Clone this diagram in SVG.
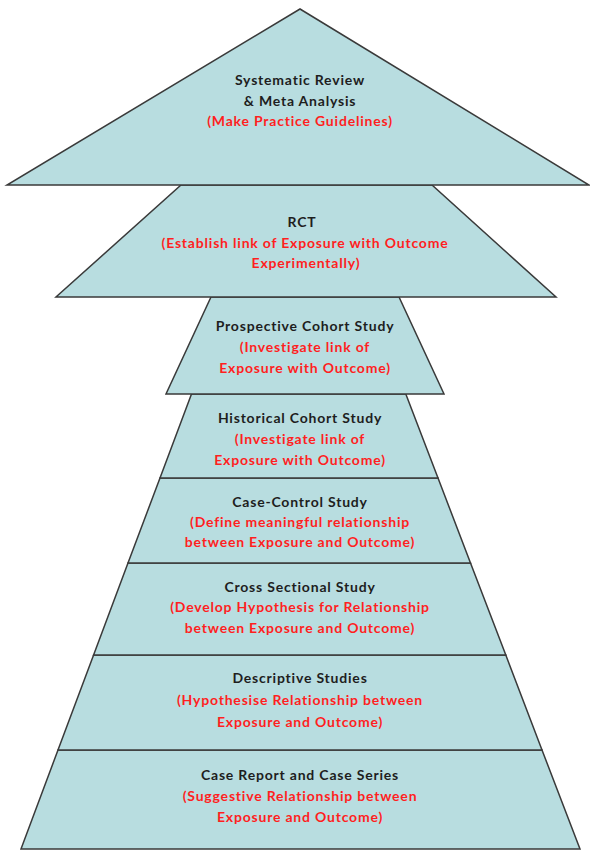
<svg xmlns="http://www.w3.org/2000/svg" width="590" height="851" viewBox="0 0 590 851">
<style>
.lvl{fill:#b8dde0;stroke:#3a3a3a;stroke-width:1.5;stroke-linejoin:miter}
text{font-family:Lato,"Liberation Sans",Arial,sans-serif;font-weight:700;font-size:14px;letter-spacing:0.8px;text-anchor:middle}
.t{fill:#1e1e1e}
.r{fill:#ff1f1f}
</style>
<defs>
<clipPath id="clipHist"><rect x="0" y="394" width="590" height="73"/></clipPath>
</defs>
<rect width="590" height="851" fill="#ffffff"/>
<g id="case-report">
<polygon class="lvl" points="58,750 542,750 580,849 21,849"/>
<text class="t" x="300" y="780">Case Report and Case Series</text>
<text class="r" x="300" y="801">(Suggestive Relationship between</text>
<text class="r" x="300" y="822">Exposure and Outcome)</text>
</g>
<g id="descriptive">
<polygon class="lvl" points="93.6,655 505.8,655 542,750 58,750"/>
<text class="t" x="300" y="683">Descriptive Studies</text>
<text class="r" x="300" y="705">(Hypothesise Relationship between</text>
<text class="r" x="300" y="727">Exposure and Outcome)</text>
</g>
<g id="cross-sectional">
<polygon class="lvl" points="128,563 470.5,563 505.8,655 93.6,655"/>
<text class="t" x="300" y="592">Cross Sectional Study</text>
<text class="r" x="300" y="612">(Develop Hypothesis for Relationship</text>
<text class="r" x="300" y="633">between Exposure and Outcome)</text>
</g>
<g id="case-control">
<polygon class="lvl" points="160,478 438,478 470.5,563 128,563"/>
<text class="t" x="300" y="507">Case-Control Study</text>
<text class="r" x="300" y="527">(Define meaningful relationship</text>
<text class="r" x="300" y="547">between Exposure and Outcome)</text>
</g>
<g id="historical-cohort">
<polygon class="lvl" points="191.5,394 405.8,394 438,478 160,478"/>
<text class="t" x="300" y="423">Historical Cohort Study</text>
<g clip-path="url(#clipHist)">
<text class="r" x="300" y="444">(Investigate link of</text>
<text class="r" x="300" y="465">Exposure with Outcome)</text>
</g>
</g>
<g id="prospective-cohort">
<polygon class="lvl" points="211,297 399,297 444,394 166,394"/>
<text class="t" x="305" y="331">Prospective Cohort Study</text>
<text class="r" x="305" y="352">(Investigate link of</text>
<text class="r" x="305" y="373">Exposure with Outcome)</text>
</g>
<g id="rct">
<polygon class="lvl" points="181,185 432,185 556,297 56,297"/>
<text class="t" x="302" y="227">RCT</text>
<text class="r" x="305" y="248">(Establish link of Exposure with Outcome</text>
<text class="r" x="306" y="268">Experimentally)</text>
</g>
<g id="systematic-review">
<polygon class="lvl" points="300,9 7,185 589,185"/>
<text class="t" x="300" y="85">Systematic Review</text>
<text class="t" x="300" y="106">&amp; Meta Analysis</text>
<text class="r" x="300" y="126">(Make Practice Guidelines)</text>
</g>
</svg>
